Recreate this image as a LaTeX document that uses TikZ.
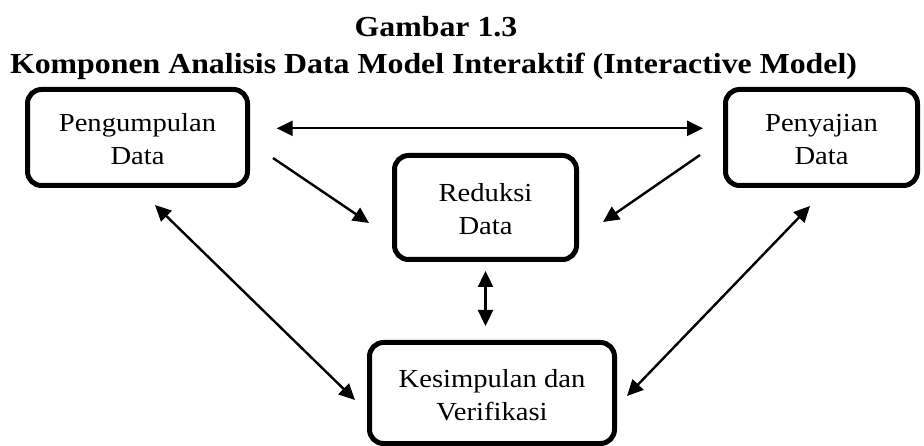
\documentclass[tikz,border=0pt]{standalone}
\usepackage{fontspec}
\setmainfont{Liberation Serif}
\usetikzlibrary{arrows.meta,calc}
\newcommand\boxtext[2]{\raisebox{-4pt}[\height][\depth]{\scalebox{1.1}[1]{\begin{tabular}{@{}c@{}}#1\\#2\end{tabular}}}}
\newcommand\titletext[1]{\scalebox{1.0976}[1]{#1}}
\tikzset{
  box/.style={draw, line width=5pt, rounded corners=14pt, inner sep=0pt,
    font=\fontsize{26}{33}\selectfont},
  ttl/.style={anchor=base, inner sep=0pt, font=\fontsize{29}{30}\selectfont\bfseries},
  conn/.style={line width=2.4pt, {Triangle[length=16pt,width=15pt]}-{Triangle[length=16pt,width=15pt]}},
  oneway/.style={line width=2.4pt, -{Triangle[length=16pt,width=15pt]}}
}
\begin{document}
\begin{tikzpicture}[x=1pt,y=-1pt]
\useasboundingbox (0,0) rectangle (924,446);
\node[ttl] (t1) at (436,36.7) {\titletext{Gambar 1.3}};
\node[ttl] (t2) at (433.5,73.5) {\titletext{Komponen Analisis Data Model Interaktif (Interactive Model)}};

\node[box, minimum width=220pt, minimum height=96pt] (P) at (137.5,137.5) {\boxtext{Pengumpulan}{Data}};
\node[box, minimum width=192pt, minimum height=96pt] (S) at (821.5,137.5) {\boxtext{Penyajian}{Data}};
\node[box, minimum width=182pt, minimum height=104pt] (R) at (485.5,207.5) {\boxtext{Reduksi}{Data}};
\node[box, minimum width=245pt, minimum height=101pt] (K) at (492,393) {\boxtext{Kesimpulan dan}{Verifikasi}};

\draw[conn] ($(P.east)+(26.7,-9.2)$) -- ($(S.west)+(-20,-9.2)$);
\draw[oneway] ($(P.south east)+(23,-30)$) -- ($(R.west)+(-23,15.5)$);
\draw[oneway] ($(S.south west)+(-23,-33)$) -- ($(R.east)+(24,14.5)$);
\draw[conn] ($(R.south)+(0,9)$) -- ($(R.south |- K.north)+(0,-14)$);
\draw[conn] ($(P.south)+(17.5,17)$) -- ($(K.west)+(-12,7)$);
\draw[conn] ($(S.south)+(-11.5,18)$) -- ($(K.east)+(10,3)$);
\end{tikzpicture}
\end{document}
